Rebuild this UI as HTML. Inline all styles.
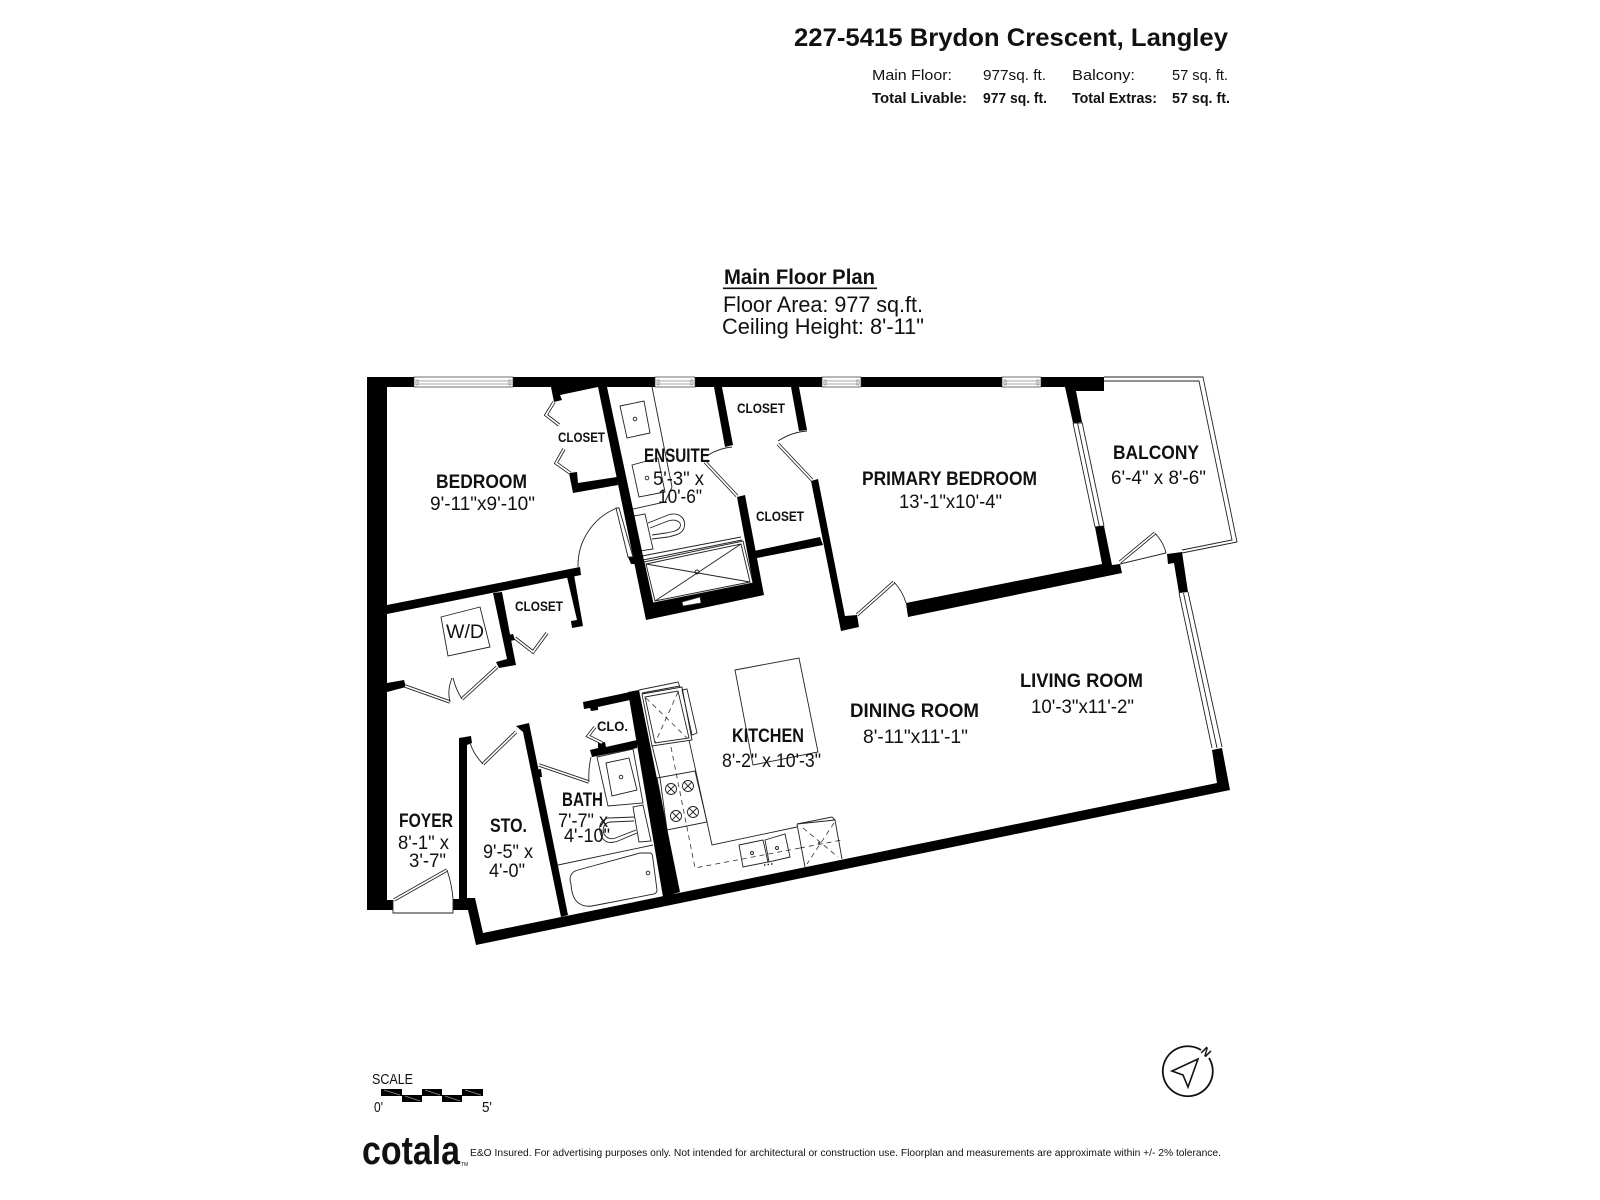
<!DOCTYPE html>
<html><head><meta charset="utf-8"><title>227-5415 Brydon Crescent, Langley</title>
<style>
html,body{margin:0;padding:0;background:#fff;width:1600px;height:1200px;overflow:hidden}
svg{display:block}
text{font-family:"Liberation Sans",sans-serif;fill:#111}
.b{font-weight:bold}
.w{fill:#000;stroke:none}
.t{fill:none;stroke:#222;stroke-width:.9}
.da{fill:none;stroke:#333;stroke-width:.8;stroke-dasharray:5 4}
.d1{fill:none;stroke:#222;stroke-width:3.4}
.d2{fill:none;stroke:#fff;stroke-width:1.7}
</style></head><body>
<svg width="1600" height="1200" viewBox="0 0 1600 1200" xmlns="http://www.w3.org/2000/svg">
<rect width="1600" height="1200" fill="#fff"/>

<!-- header -->
<text class="b" x="794" y="46" font-size="25" textLength="434" lengthAdjust="spacingAndGlyphs">227-5415 Brydon Crescent, Langley</text>
<text x="872" y="80" font-size="15" textLength="80" lengthAdjust="spacingAndGlyphs">Main Floor:</text>
<text x="983" y="80" font-size="15" textLength="63" lengthAdjust="spacingAndGlyphs">977sq. ft.</text>
<text x="1072" y="80" font-size="15" textLength="63" lengthAdjust="spacingAndGlyphs">Balcony:</text>
<text x="1172" y="80" font-size="15" textLength="56" lengthAdjust="spacingAndGlyphs">57 sq. ft.</text>
<text class="b" x="872" y="103" font-size="15" textLength="95" lengthAdjust="spacingAndGlyphs">Total Livable:</text>
<text class="b" x="983" y="103" font-size="15" textLength="64" lengthAdjust="spacingAndGlyphs">977 sq. ft.</text>
<text class="b" x="1072" y="103" font-size="15" textLength="85" lengthAdjust="spacingAndGlyphs">Total Extras:</text>
<text class="b" x="1172" y="103" font-size="15" textLength="58" lengthAdjust="spacingAndGlyphs">57 sq. ft.</text>

<text class="b" x="724" y="284" font-size="21" textLength="151" lengthAdjust="spacingAndGlyphs">Main Floor Plan</text>
<rect x="723" y="287.5" width="154" height="1.6" fill="#111"/>
<text x="723" y="312" font-size="22" textLength="200" lengthAdjust="spacingAndGlyphs">Floor Area: 977 sq.ft.</text>
<text x="722" y="334" font-size="22" textLength="202" lengthAdjust="spacingAndGlyphs">Ceiling Height: 8'-11"</text>

<!-- fixtures (under walls) -->
<g>
<!-- balcony -->
<polyline class="t" points="1104,377 1203,377 1237,542 1182,553"/>
<polyline class="t" points="1104,381 1199,381 1232,540 1182,550"/>
<!-- sliding windows -->
<path class="t" d="M1073,423 L1095,527 M1082,422 L1104,526 M1077.5,423 L1099.5,527 M1073,423 H1082 M1095,527 L1104,526"/>
<path class="t" d="M1179,593 L1212,748 M1188,592 L1222,747 M1183.5,593 L1217,748"/>
<!-- ensuite -->
<polygon class="t" points="620,406 644,401 650,433 627,438"/>
<circle class="t" cx="635" cy="419" r="1.8"/>
<polygon class="t" points="632,465 658,458 665,492 639,497"/>
<circle class="t" cx="647" cy="478" r="1.8"/>
<path class="t" d="M652,387 L672,487 M633,509 L665,502 L672,487"/>
<polygon class="t" points="634,516 645,514 653,549 640,551"/>
<path class="t" d="M648,523 L668,515 C680,511 687,520 684,528 C682,534 676,535 668,537 L652,539"/>
<path class="t" d="M650,528 L668,521 C677,518 682,523 680,527 C678,531 672,532 666,533 L652,535"/>
<polygon class="t" points="644,562 743,541 753,583 653,603"/>
<polygon class="t" points="646,564 741,544 750,582 655,601"/>
<path class="t" d="M642,556 L741,537 M643,560 L742,540 M646,564 L750,582 M655,601 L741,544"/>
<circle class="t" cx="697" cy="572" r="2"/>
<!-- W/D -->
<polygon class="t" points="441,617 480,607 490,647 448,656"/>
<!-- bath -->
<polygon class="t" points="597,757 633,749 643,803 608,806"/>
<polygon class="t" points="606,763 629,758 637,790 612,796"/>
<circle class="t" cx="621" cy="777" r="1.8"/>
<polygon class="t" points="633,807 643,805 651,841 639,842"/>
<path class="t" d="M635,817 L608,818 C600,820 598,827 601,835 C604,843 610,844 618,841 L637,833"/>
<path class="t" d="M634,821 L610,822 C604,823 602,828 604,834 C607,839 612,840 618,837 L636,830"/>
<path class="t" d="M558,865 L653,845"/>
<path class="t" d="M640,853 L650,853 Q652,853 652.5,856 L657,890 Q657,893 654,894 L592,906 Q585,907 580,904 Q572,900 571,884 L570,880 Q570,872 578,870 Z"/>
<circle class="t" cx="648" cy="873" r="1.8"/>
<!-- kitchen -->
<polygon class="t" points="735,670 799,658 818,752 753,765"/>
<path class="t" d="M639,690 L678,682 L680,687 M642,693 L680,686"/>
<polygon class="t" points="642,694 682,687 692,740 652,746"/>
<polygon class="t" points="645,697 678,691 689,738 655,743"/>
<polygon class="t" points="682,690 687,689 697,733 692,735"/>
<path class="da" d="M646,698 L687,738 M678,692 L655,743"/>
<polyline class="t" points="689,740 712,845 797,827"/>
<path class="t" d="M652,745 L660,778 L667,830"/>
<polygon class="t" points="657,778 695,771 707,822 667,830"/>
<path class="da" d="M671,747 L695,868 L800,848 M800,848 L842,840"/>
<g class="t">
<circle cx="671" cy="789" r="5.5"/><path d="M667,785 L675,793 M675,785 L667,793"/>
<circle cx="688" cy="786" r="5.5"/><path d="M684,782 L692,790 M692,782 L684,790"/>
<circle cx="676" cy="816" r="5.5"/><path d="M672,812 L680,820 M680,812 L672,820"/>
<circle cx="693" cy="812" r="5.5"/><path d="M689,808 L697,816 M697,808 L689,816"/>
</g>
<polygon class="t" points="739,845 763,840 768,862 743,867"/>
<polygon class="t" points="765,840 785,834 790,857 769,862"/>
<circle class="t" cx="752" cy="853" r="1.5"/><circle class="t" cx="777" cy="848" r="1.5"/>
<path d="M764,865h1.5M767.5,864.5h1.5M771,864h1.5" stroke="#222" stroke-width="1.4" fill="none"/>
<path class="t" d="M797,824 L832,817 L835,820 M797,824 L805,867 M835,820 L842,859"/>
<path class="t" d="M797,824 L835,820"/>
<path class="da" d="M803,828 L838,857 M834,823 L807,864"/>
<circle cx="819" cy="843" r="1" fill="#222"/>
</g>

<!-- walls -->
<g class="w">
<polygon points="367,377 1104,377 1104,391 1076,391 1082,422 1073,423 1065,387 387,387 387,683 404,680 406,687 387,692 387,900 393,900 393,910 367,910"/>
<polygon points="551,387 598,387 560,395 562,400 554,402"/>
<!-- ensuite left + bottom + right -->
<polygon points="598,387 607,387 653,603 753,583 737,497 745,495 764,595 646,620"/>
<polygon points="714,387 722,387 733,445 725,447"/>
<polygon points="791,387 799,387 807,430 799,431"/>
<polygon points="754,551 820,537 823,545 757,558"/>
<polygon points="811,481 818,479 845,616 857,615 859,627 841,631"/>
<polygon points="906,603 1102,564 1095,527 1104,526 1112,565 1120,564 1122,573 908,617"/>
<polygon points="1167,554 1182,552 1188,592 1179,593 1174,563 1168,564"/>
<!-- east + south + storage-left -->
<polygon points="1212,750 1222,748 1230,790 476,945 468,910 453,910 453,899 459,899 459,738 471,736 472,743 467,745 467,898 475,898 483,933 1217,783"/>
<polygon points="569,473 577,472 578,483 617,477 618,485 573,493"/>
<polygon points="387,605 580,567 581,575 387,614"/>
<polygon points="493,593 502,592 513,650 516,665 499,668 496,662 507,659"/>
<polygon points="508,635 513,634 515,640 510,641"/>
<polygon points="567,577 574,575 583,626 572,628 571,621 577,620"/>
<polygon points="516,726 529,723 568,915 561,917 523,732"/>
<polygon points="535,770 541,769 542,777 537,777"/>
<polygon points="628,692 639,690 680,892 663,897"/>
<polygon points="583,702 630,692 630,700 598,707 598,710 591,711 590,708 584,709"/>
<polygon points="590,750 598,748 598,743 605,742 606,747 637,740 637,748 592,757"/>
<polygon points="628,557 636,557 638,564 631,564"/>
</g>

<!-- windows on top wall -->
<g fill="#fff" stroke="#333" stroke-width=".7">
<rect x="414" y="377" width="99" height="10"/>
<rect x="655" y="377" width="40" height="10"/>
<rect x="822" y="377" width="39" height="10"/>
<rect x="1002" y="377" width="39" height="10"/>
<polygon points="682,602 700,597 701,603 683,606"/>
</g>
<path d="M416,380 H418 V385 H416 Z M509,380 H511 V385 H509 Z M418,381 H509 M418,384 H509 M657,380 H659 V385 H657 Z M691,380 H693 V385 H691 Z M659,381 H691 M659,384 H691 M824,380 H826 V385 H824 Z M857,380 H859 V385 H857 Z M826,381 H857 M826,384 H857 M1004,380 H1006 V385 H1004 Z M1037,380 H1039 V385 H1037 Z M1006,381 H1037 M1006,384 H1037" fill="none" stroke="#555" stroke-width=".6"/>

<!-- doors -->
<polyline class="d1" points="554,402 546,415 559,425"/><polyline class="d2" points="554,402 546,415 559,425"/>
<polyline class="d1" points="564,449 556,463 570,473"/><polyline class="d2" points="564,449 556,463 570,473"/>
<polyline class="d1" points="515,638 533,652 547,633"/><polyline class="d2" points="515,638 533,652 547,633"/>
<polyline class="d1" points="405,686 450,702"/><polyline class="d2" points="405,686 450,702"/>
<polyline class="d1" points="462,699 497,667"/><polyline class="d2" points="462,699 497,667"/>
<polyline class="d1" points="483,764 516,732"/><polyline class="d2" points="483,764 516,732"/>
<polyline class="d1" points="539,765 589,782"/><polyline class="d2" points="539,765 589,782"/>
<polyline class="d1" points="595,727 588,736 602,743"/><polyline class="d2" points="595,727 588,736 602,743"/>
<polyline class="d1" points="705,462 737,496"/><polyline class="d2" points="705,462 737,496"/>
<polyline class="d1" points="778,444 812,480"/><polyline class="d2" points="778,444 812,480"/>
<polyline class="d1" points="857,615 894,582"/><polyline class="d2" points="857,615 894,582"/>
<polyline class="d1" points="1120,562 1155,533"/><polyline class="d2" points="1120,562 1155,533"/>
<polyline class="d1" points="394,900 447,870"/><polyline class="d2" points="394,900 447,870"/>
<polygon points="616,508 619,508 633,557 628,557" fill="#fff" stroke="#222" stroke-width=".9"/>
<path class="t" d="M617,508 A62,62 0 0 0 578,567"/>
<path class="t" d="M450,702 Q447,690 452,678 M462,699 Q456,690 453,678"/>
<path class="t" d="M483,764 Q474,755 470,743"/>
<path class="t" d="M589,782 Q588,770 591,757"/>
<path class="t" d="M708,455 Q720,448 732,447"/>
<path class="t" d="M778,441 Q792,432 807,431"/>
<path class="t" d="M894,582 Q903,592 906,603"/>
<path class="t" d="M1155,533 Q1164,543 1166,553 L1120,564"/>
<path class="t" d="M447,870 Q452,885 453,899"/>
<polyline class="t" points="393,900 393,913 453,913 453,899"/>

<!-- labels -->
<g>
<text class="b" x="558" y="442" font-size="14" textLength="47" lengthAdjust="spacingAndGlyphs">CLOSET</text>
<text class="b" x="737" y="413" font-size="14" textLength="48" lengthAdjust="spacingAndGlyphs">CLOSET</text>
<text class="b" x="756" y="521" font-size="14" textLength="48" lengthAdjust="spacingAndGlyphs">CLOSET</text>
<text class="b" x="515" y="611" font-size="14" textLength="48" lengthAdjust="spacingAndGlyphs">CLOSET</text>
<text class="b" x="597" y="731" font-size="14" textLength="31" lengthAdjust="spacingAndGlyphs">CLO.</text>
<text class="b" x="436" y="488" font-size="19" textLength="91" lengthAdjust="spacingAndGlyphs">BEDROOM</text>
<text x="430" y="510" font-size="19" textLength="105" lengthAdjust="spacingAndGlyphs">9'-11"x9'-10"</text>
<text class="b" x="644" y="462" font-size="19" textLength="66" lengthAdjust="spacingAndGlyphs">ENSUITE</text>
<text x="653" y="485" font-size="19" textLength="51" lengthAdjust="spacingAndGlyphs">5'-3" x</text>
<text x="658" y="503" font-size="19" textLength="44" lengthAdjust="spacingAndGlyphs">10'-6"</text>
<text x="446" y="638" font-size="19" textLength="38" lengthAdjust="spacingAndGlyphs">W/D</text>
<text class="b" x="862" y="485" font-size="19" textLength="175" lengthAdjust="spacingAndGlyphs">PRIMARY BEDROOM</text>
<text x="899" y="508" font-size="19" textLength="103" lengthAdjust="spacingAndGlyphs">13'-1"x10'-4"</text>
<text class="b" x="1113" y="459" font-size="19" textLength="86" lengthAdjust="spacingAndGlyphs">BALCONY</text>
<text x="1111" y="484" font-size="19" textLength="95" lengthAdjust="spacingAndGlyphs">6'-4" x 8'-6"</text>
<text class="b" x="399" y="827" font-size="19" textLength="54" lengthAdjust="spacingAndGlyphs">FOYER</text>
<text x="398" y="849" font-size="19" textLength="51" lengthAdjust="spacingAndGlyphs">8'-1" x</text>
<text x="409" y="867" font-size="19" textLength="37" lengthAdjust="spacingAndGlyphs">3'-7"</text>
<text class="b" x="490" y="832" font-size="19" textLength="37" lengthAdjust="spacingAndGlyphs">STO.</text>
<text x="483" y="858" font-size="19" textLength="50" lengthAdjust="spacingAndGlyphs">9'-5" x</text>
<text x="489" y="877" font-size="19" textLength="36" lengthAdjust="spacingAndGlyphs">4'-0"</text>
<text class="b" x="562" y="806" font-size="19" textLength="41" lengthAdjust="spacingAndGlyphs">BATH</text>
<text x="558" y="827" font-size="19" textLength="50" lengthAdjust="spacingAndGlyphs">7'-7" x</text>
<text x="564" y="842" font-size="19" textLength="46" lengthAdjust="spacingAndGlyphs">4'-10"</text>
<text class="b" x="732" y="742" font-size="19" textLength="72" lengthAdjust="spacingAndGlyphs">KITCHEN</text>
<text x="722" y="767" font-size="19" textLength="99" lengthAdjust="spacingAndGlyphs">8'-2" x 10'-3"</text>
<text class="b" x="850" y="717" font-size="19" textLength="129" lengthAdjust="spacingAndGlyphs">DINING ROOM</text>
<text x="863" y="743" font-size="19" textLength="105" lengthAdjust="spacingAndGlyphs">8'-11"x11'-1"</text>
<text class="b" x="1020" y="687" font-size="19" textLength="123" lengthAdjust="spacingAndGlyphs">LIVING ROOM</text>
<text x="1031" y="713" font-size="19" textLength="103" lengthAdjust="spacingAndGlyphs">10'-3"x11'-2"</text>
</g>

<!-- scale -->
<text x="372" y="1084" font-size="15" textLength="41" lengthAdjust="spacingAndGlyphs">SCALE</text>
<g fill="#000">
<rect x="381" y="1089" width="21" height="7"/><rect x="402" y="1095" width="20" height="7"/>
<rect x="422" y="1089" width="20" height="7"/><rect x="442" y="1095" width="20" height="7"/>
<rect x="462" y="1089" width="21" height="7"/>
</g>
<path d="M384,1090 L400,1095 M405,1096 L420,1101 M425,1090 L440,1095 M445,1096 L460,1101 M465,1090 L481,1095" stroke="#999" stroke-width=".7" fill="none"/>
<text x="374" y="1112" font-size="15" textLength="9" lengthAdjust="spacingAndGlyphs">0'</text>
<text x="482" y="1112" font-size="15" textLength="10" lengthAdjust="spacingAndGlyphs">5'</text>

<!-- footer -->
<text class="b" x="362" y="1164" font-size="40" textLength="98" lengthAdjust="spacingAndGlyphs">cotala</text>
<text x="461" y="1166" font-size="5">TM</text>
<text x="470" y="1156" font-size="10.5" textLength="751" lengthAdjust="spacingAndGlyphs">E&amp;O Insured. For advertising purposes only. Not intended for architectural or construction use. Floorplan and measurements are approximate within +/- 2% tolerance.</text>

<!-- compass -->
<path d="M1201,1050 A25,25 0 1 0 1209,1058" fill="none" stroke="#111" stroke-width="1.8"/>
<polygon points="1198,1059 1172,1071 1183,1075 1188,1087" fill="none" stroke="#111" stroke-width="1.6"/>
<text class="b" x="1206" y="1056" font-size="12" text-anchor="middle" transform="rotate(45 1206 1052)">N</text>
</svg>
</body></html>
